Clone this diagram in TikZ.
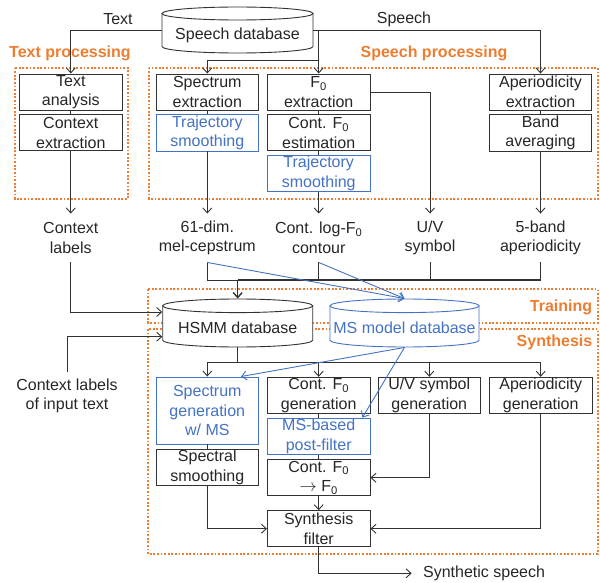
\documentclass[tikz,border=0pt]{standalone}
\usepackage{fontspec}
\setmainfont{Liberation Sans}
\usetikzlibrary{arrows.meta}
\definecolor{procorange}{RGB}{237,125,49}
\definecolor{msblue}{RGB}{68,114,196}
\definecolor{txtgray}{RGB}{38,38,38}
\definecolor{linegray}{RGB}{50,50,50}
\begin{document}
\begin{tikzpicture}[x=1pt,y=1pt,yscale=-1,
  font=\fontsize{16}{19.6}\selectfont, text=txtgray,
  line width=0.9pt, draw=linegray,
  box/.style={draw=linegray, fill=white, minimum width=102.5pt, minimum height=36pt, align=center, inner sep=1pt},
  bluebox/.style={box, draw=msblue, text=msblue},
  dbase/.style={inner sep=0pt},
  lbl/.style={align=center, inner sep=1pt, minimum height=48pt},
  grp/.style={draw=procorange, line width=1.8pt, dash pattern=on 1.8pt off 1.8pt},
  grplbl/.style={text=procorange, font=\fontsize{16}{19.6}\selectfont\bfseries},
  arr/.style={-{Straight Barb[length=5pt,width=9pt]}},
  barr/.style={arr, draw=msblue}]
\useasboundingbox (0,0) rectangle (600,583);
% processing groups
\draw[grp] (15,67.7) rectangle (127.7,199);
\draw[grp] (149,67.7) rectangle (597.7,199);
\draw[grp] (148,289) rectangle (597.7,322.7);
\draw[grp] (148,329) rectangle (597.7,554);
\node[grplbl] (gtext) at (70,53) {Text processing};
\node[grplbl] (gspeech) at (434,53) {Speech processing};
\node[grplbl] (gtrain) at (561,307) {Training};
\node[grplbl] (gsynth) at (554.5,342.7) {Synthesis};
% databases
\draw[fill=white] (162,13.5) -- (162,46.5) .. controls (162,50.09) and (195.8,53) .. (237.5,53) .. controls (279.2,53) and (313,50.09) .. (313,46.5) -- (313,13.5) -- cycle;
\draw[fill=white] (237.5,13.5) ellipse [x radius=75.5, y radius=6.5];
\draw[fill=white] (162.7,305.8) -- (162.7,340.2) .. controls (162.7,343.95) and (196.3,347) .. (237.7,347) .. controls (279.1,347) and (312.7,343.95) .. (312.7,340.2) -- (312.7,305.8) -- cycle;
\draw[fill=white] (237.7,305.8) ellipse [x radius=75, y radius=6.8];
\draw[draw=msblue, fill=white] (330,305.8) -- (330,340.2) .. controls (330,343.95) and (363.4,347) .. (404.5,347) .. controls (445.6,347) and (479,343.95) .. (479,340.2) -- (479,305.8) -- cycle;
\draw[draw=msblue, fill=white] (404.5,305.8) ellipse [x radius=74.5, y radius=6.8];
\node[dbase, minimum width=151pt, minimum height=46pt] (spdb) at (237.5,30) {\raisebox{-5pt}[\height][\depth]{Speech database}};
\node[dbase, minimum width=150pt, minimum height=48pt] (hsmm) at (237.7,323) {\raisebox{-5pt}[\height][\depth]{HSMM database}};
\node[dbase, minimum width=149pt, minimum height=48pt, text=msblue] (ms) at (404.5,323) {\raisebox{-5pt}[\height][\depth]{MS model database}};
% analysis boxes
\node[box] (tana) at (70.8,92) {Text\\analysis};
\node[box] (ctxe) at (70.8,132.7) {Context\\extraction};
\node[box] (spext) at (207.3,92) {Spectrum\\extraction};
\node[bluebox] (traj1) at (207.3,132.7) {Trajectory\\smoothing};
\node[box] (f0ext) at (318.7,92) {F\textsubscript{0}\\extraction};
\node[box] (cf0) at (318.7,132.7) {Cont. F\textsubscript{0}\\estimation};
\node[bluebox] (traj2) at (318.7,173.4) {Trajectory\\smoothing};
\node[box] (aper) at (540.5,92) {Aperiodicity\\extraction};
\node[box] (band) at (540.5,132.7) {Band\\averaging};
% features
\node[lbl] (ctxlab) at (70.8,238) {Context\\labels};
\node[lbl] (mel) at (207.3,238) {61-dim.\\mel-cepstrum};
\node[lbl] (lf0) at (318.7,238) {Cont. log-F\textsubscript{0}\\contour};
\node[lbl] (uvlab) at (430,238) {U/V\\symbol};
\node[lbl] (aplab) at (540.5,238) {5-band\\aperiodicity};
\node[lbl] (inlab) at (67,396) {Context labels\\of input text};
% synthesis boxes
\node[bluebox, minimum height=67pt] (spgen) at (207.3,410.5) {Spectrum\\generation\\w/ MS};
\node[box] (spsm) at (207.3,467.5) {Spectral\\smoothing};
\node[box] (f0gen) at (318.7,395.3) {Cont. F\textsubscript{0}\\generation};
\node[bluebox] (pf) at (318.7,436.3) {MS-based\\post-filter};
\node[box] (f0conv) at (318.7,477.7) {Cont. F\textsubscript{0}\\$\rightarrow$ F\textsubscript{0}};
\node[box] (synf) at (318.7,528.7) {Synthesis\\filter};
\node[box] (uvgen) at (429.3,395.5) {U/V symbol\\generation};
\node[box] (apgen) at (540.7,395.5) {Aperiodicity\\generation};
\node[anchor=west, inner xsep=11pt, inner ysep=1pt] (out) at (411.7,573.3) {Synthetic speech};
\coordinate (sbr) at (0,60);
\coordinate (bus) at (0,280);
\coordinate (sbus) at (0,362.3);
% speech database outputs
\draw[arr] (spdb.west) -| (tana.north);
\draw[arr] (spdb.east) -| (aper.north);
\draw[arr] (f0ext.north |- spdb.east) -- (f0ext.north);
\draw[arr] (f0ext.north |- sbr) -| (spext.north);
\node (ltext) at (118,19) {Text};
\node (lspeech) at (404,19) {Speech};
% stacked boxes
\draw (tana.south) -- (ctxe.north);
\draw (spext.south) -- (traj1.north);
\draw (f0ext.south) -- (cf0.north);
\draw (cf0.south) -- (traj2.north);
\draw (aper.south) -- (band.north);
\draw (spgen.south) -- (spsm.north);
\draw (f0gen.south) -- (pf.north);
\draw (pf.south) -- (f0conv.north);
% to features
\draw[arr] (ctxe.south) -- (ctxlab.north);
\draw[arr] (traj1.south) -- (mel.north);
\draw[arr] (traj2.south) -- (lf0.north);
\draw[arr] (f0ext.east) -| (uvlab.north);
\draw[arr] (band.south) -- (aplab.north);
% training
\draw (mel.south) -- (mel.south |- bus) -- (hsmm.north |- bus);
\draw (lf0.south) -- (lf0.south |- bus);
\draw (uvlab.south) -- (uvlab.south |- bus);
\draw (aplab.south) -- (aplab.south |- bus);
\draw[line width=1.4pt] (hsmm.north |- bus) -- (aplab.south |- bus);
\draw[arr, line width=1.4pt] (hsmm.north |- bus) -- (hsmm.north);
\draw[arr] (ctxlab.south) |- ([yshift=-11pt]hsmm.west);
\draw[arr] (inlab.north) |- ([yshift=13.7pt]hsmm.west);
\draw[barr] (mel.south) -- (ms.north);
\draw[barr] (lf0.south) -- (ms.north);
% synthesis
\draw (hsmm.south) -- (hsmm.south |- sbus);
\draw (spgen.north |- sbus) -- (apgen.north |- sbus);
\draw[arr] (spgen.north |- sbus) -- (spgen.north);
\draw[arr] (f0gen.north |- sbus) -- (f0gen.north);
\draw[arr] (uvgen.north |- sbus) -- (uvgen.north);
\draw[arr] (apgen.north |- sbus) -- (apgen.north);
\draw[barr] (ms.south) -- ([xshift=-18pt]spgen.north east);
\draw[barr] (ms.south) -- ([xshift=-8pt]pf.north east);
\draw[arr] (spsm.south) |- (synf.west);
\draw[arr] (uvgen.south) |- (f0conv.east);
\draw[arr] (apgen.south) |- (synf.east);
\draw[arr] (f0conv.south) -- (synf.north);
\draw[arr] (synf.south) |- (out.west);
\end{tikzpicture}
\end{document}
